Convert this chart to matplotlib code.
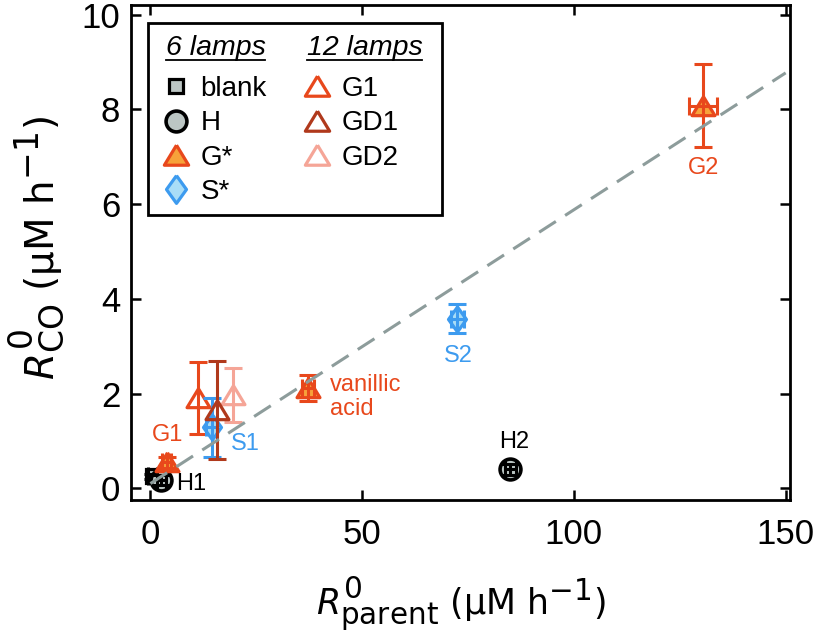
import matplotlib
matplotlib.use("Agg")
import matplotlib.pyplot as plt
from matplotlib.lines import Line2D
from matplotlib.patches import Rectangle
import numpy as np

try:
    import matplotlib._mathtext as _mt
    _mt.SHRINK_FACTOR = 0.85
except Exception:
    pass

plt.rcParams['font.family'] = ['Liberation Sans', 'DejaVu Sans']
plt.rcParams['mathtext.fontset'] = 'dejavusans'

# ---- data ----
blank_x = [0.5]; blank_y = [0.25]; blank_xerr = [1.0]; blank_yerr = [0.06]
H_x = [2.6, 85.0]; H_y = [0.17, 0.40]; H_xerr = [1.0, 1.3]; H_yerr = [0.10, 0.12]
Gs_x = [3.8, 37.2, 130.5]; Gs_y = [0.55, 2.12, 8.08]
Gs_xerr = [1.0, 1.5, 3.4]; Gs_yerr = [0.12, 0.27, 0.88]
Ss_x = [14.5, 72.5]; Ss_y = [1.29, 3.58]; Ss_xerr = [1.3, 1.6]; Ss_yerr = [0.62, 0.30]
G1_x = [11.2]; G1_y = [1.90]; G1_yerr = [0.76]
GD1_x = [15.7]; GD1_y = [1.65]; GD1_yerr = [1.04]
GD2_x = [19.5]; GD2_y = [1.97]; GD2_yerr = [0.57]
fit_slope = 0.0578
fit_intercept = 0.10
fit_xrange = [0.0, 150.0]

labels_text = ['G1', 'S1', 'H1', 'vanillic\nacid', 'S2', 'H2', 'G2']
labels_x = [4.0, 22.5, 9.7, 42.4, 72.8, 85.8, 130.6]
labels_y = [1.12, 0.93, 0.10, 1.92, 2.79, 0.97, 6.77]

xticks = [0, 50, 100, 150]
yticks = [0, 2, 4, 6, 8, 10]

# ---- colors ----
c_orange_edge = '#E8481C'
c_orange_fill = '#F7A23A'
c_blue_edge = '#3D9BEF'
c_blue_fill = '#A9DDF7'
c_gray_fill = '#BCC6C4'
c_gd1 = '#B0391C'
c_gd2 = '#F5A597'
c_fit = '#8D9C9B'
label_colors = [c_orange_edge, c_blue_edge, 'black', c_orange_edge, c_blue_edge, 'black', c_orange_edge]

diamond = [(0, 1), (0.72, 0), (0, -1), (-0.72, 0), (0, 1)]
tri = [(0, 0.85), (1, -0.8), (-1, -0.8), (0, 0.85)]

MS_T, MS_C, MS_S, MS_D = 16.5, 15, 9.5, 19

fig = plt.figure(figsize=(8.16, 6.42), dpi=100)
ax = fig.add_axes([0.161, 0.221, 0.807, 0.771])

ELW = 2.2
CAP = 6.8

def errplot(x, y, xerr, yerr, marker, ms, mfc, mec, ecolor, z, mew=2.3):
    ax.plot(x, y, linestyle='none', marker=marker, ms=ms, mfc=mfc, mec=mec, mew=mew, zorder=z)
    ax.errorbar(x, y, xerr=xerr, yerr=yerr, fmt='none', ecolor=ecolor, elinewidth=ELW,
                capsize=CAP, capthick=ELW, zorder=z + 0.5)

errplot(blank_x, blank_y, blank_xerr, blank_yerr, 's', MS_S, c_gray_fill, 'black', 'black', 3)
errplot(H_x, H_y, H_xerr, H_yerr, 'o', MS_C, c_gray_fill, 'black', 'black', 4, mew=2.6)
errplot(G1_x, G1_y, None, G1_yerr, tri, MS_T, 'none', c_orange_edge, c_orange_edge, 5)
errplot(GD2_x, GD2_y, None, GD2_yerr, tri, MS_T, 'none', c_gd2, c_gd2, 5)
errplot(Ss_x, Ss_y, Ss_xerr, Ss_yerr, diamond, MS_D - 1, c_blue_fill, c_blue_edge, c_blue_edge, 6)
errplot(GD1_x, GD1_y, None, GD1_yerr, tri, MS_T, 'none', c_gd1, c_gd1, 7)
errplot(Gs_x, Gs_y, Gs_xerr, Gs_yerr, tri, MS_T, c_orange_fill, c_orange_edge, c_orange_edge, 8)

fx = np.array(fit_xrange)
ax.plot(fx, fit_slope * fx + fit_intercept, color=c_fit, lw=2.2, dashes=[6.5, 3.6], zorder=10)

for t, x, y, c in zip(labels_text, labels_x, labels_y, label_colors):
    if '\n' in t:
        ax.text(x, y, t, color=c, fontsize=17, ha='left', va='center', linespacing=1.1)
    else:
        ax.text(x, y, t, color=c, fontsize=17, ha='center', va='center')

ax.set_xlim(-4.5, 151)
ax.set_ylim(-0.25, 10.2)
ax.set_xticks(xticks)
ax.set_yticks(yticks)
ax.tick_params(direction='in', length=7, width=1.8, labelsize=25, top=True, right=True,
               labeltop=False, labelright=False)
ax.tick_params(axis='x', pad=13)
ax.tick_params(axis='y', pad=8)
for s in ax.spines.values():
    s.set_linewidth(2.0)

ax.set_xlabel(r'$R^{0}_{\mathrm{parent}}$ (µM h$^{\mathrm{-1}}$)', fontsize=25,
              labelpad=17, fontfamily='DejaVu Sans')
ax.set_ylabel(r'$R^{0}_{\mathrm{CO}}$ (µM h$^{\mathrm{-1}}$)', fontsize=28,
              labelpad=11, fontfamily='DejaVu Sans')
ax.yaxis.label.set_y(0.51)

# ---- legend ----
def h(marker, ms, mfc, mec, mew=2.3):
    return Line2D([], [], linestyle='none', marker=marker, ms=ms, mfc=mfc, mec=mec, mew=mew)

handles1 = [h('s', MS_S + 0.5, c_gray_fill, 'black'), h('o', MS_C, c_gray_fill, 'black', 2.6),
            h(tri, MS_T + 1, c_orange_fill, c_orange_edge), h(diamond, MS_D + 1, c_blue_fill, c_blue_edge)]
labels1 = ['blank', 'H', 'G*', 'S*']
handles2 = [h(tri, MS_T + 1, 'none', c_orange_edge), h(tri, MS_T + 1, 'none', c_gd1),
            h(tri, MS_T + 1, 'none', c_gd2)]
labels2 = ['G1', 'GD1', 'GD2']

common = dict(frameon=False, fontsize=20, handlelength=0.75, handletextpad=0.5,
              labelspacing=0.3, borderpad=0.0, borderaxespad=0.0, alignment='left',
              title_fontproperties={'style': 'italic', 'size': 20.5})
leg1 = ax.legend(handles1, labels1, title='6 lamps', loc='upper left',
                 bbox_to_anchor=(0.052, 0.94), **common)
ax.add_artist(leg1)
leg2 = ax.legend(handles2, labels2, title='12 lamps', loc='upper left',
                 bbox_to_anchor=(0.266, 0.94), **common)
for lg in (leg1, leg2):
    lg._legend_box.sep = 11

ax.add_patch(Rectangle((0.026, 0.576), 0.446, 0.388, transform=ax.transAxes,
                       fill=True, facecolor='white', edgecolor='black', lw=2.0, zorder=20))
leg1.set_zorder(21); leg2.set_zorder(21)

fig.canvas.draw()
for lg in (leg1, leg2):
    bb = lg.get_title().get_window_extent()
    y = bb.y0 + 1
    fig.add_artist(Line2D([bb.x0, bb.x1], [y, y], transform=None, color='black', lw=1.3, zorder=30))

fig.savefig('out.png', dpi=100)
